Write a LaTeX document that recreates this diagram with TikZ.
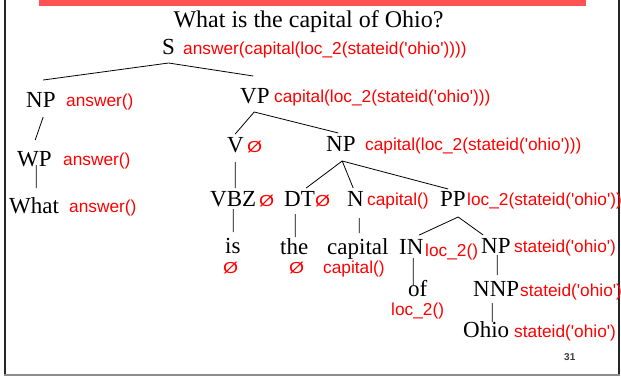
\documentclass[tikz,border=0pt]{standalone}
\usepackage{fontspec}
\setmainfont{Liberation Serif}
\newfontfamily\redfont{Liberation Sans}
\definecolor{barred}{RGB}{255,82,82}
\definecolor{pagegray}{RGB}{60,60,60}
\newcommand{\emptysem}{\scalebox{1.12}[0.92]{Ø}}
\tikzset{
  cat/.style={font=\fontsize{23}{23}\selectfont, inner sep=0pt, anchor=base west},
  sem/.style={font=\redfont\fontsize{17.3}{17.3}\selectfont, text=red, inner sep=0pt, anchor=base west},
  edge/.style={line width=0.8pt, black},
}
\begin{document}
\begin{tikzpicture}[x=1pt,y=-1pt]
\useasboundingbox (0,0) rectangle (621,376);
% frame
\fill[barred] (39,0) rectangle (586,5.5);
\draw[line width=1.6pt, black!85] (4.8,0) -- (4.8,376);
\draw[line width=1.6pt, black!85] (619,0) -- (619,376);
\draw[line width=1.4pt, black!45] (4,374.8) -- (620,374.8);
% title
\node[inner sep=0pt, anchor=base, font=\fontsize{24}{24}\selectfont] (title) at (308.5,27) {What is the capital of Ohio?};
% categories
\node[cat] (S) at (162,54) {S};
\node[cat] (NPa) at (26,107) {NP};
\node[cat] (WP) at (17,166) {WP};
\node[cat] (What) at (9,213) {What};
\node[cat] (VP) at (240,103) {VP};
\node[cat] (V) at (227,152) {V};
\node[cat] (NPb) at (326,151) {NP};
\node[cat] (VBZ) at (210,206) {VBZ};
\node[cat] (DT) at (284,206) {DT};
\node[cat] (N) at (347,206) {N};
\node[cat] (PP) at (440,206) {PP};
\node[cat] (is) at (225,253) {is};
\node[cat] (the) at (280,254) {the};
\node[cat] (capital) at (327,254) {capital};
\node[cat] (IN) at (399,254) {IN};
\node[cat] (NPc) at (481,253) {NP};
\node[cat] (of) at (408,296) {of};
\node[cat] (NNP) at (473,296) {NNP};
\node[cat] (Ohio) at (463,337) {Ohio};
% semantics
\node[sem] (sS) at (183,54) {answer(capital(loc\_2(stateid('ohio'))))};
\node[sem] (sNPa) at (66,106) {answer()};
\node[sem] (sWP) at (63,165) {answer()};
\node[sem] (sWhat) at (69,212) {answer()};
\node[sem] (sVP) at (274,102) {capital(loc\_2(stateid('ohio')))};
\node[sem] (sV) at (247,152) {\emptysem};
\node[sem] (sNPb) at (365,150) {capital(loc\_2(stateid('ohio')))};
\node[sem] (sVBZ) at (259,206) {\emptysem};
\node[sem] (sDT) at (315,206) {\emptysem};
\node[sem] (sN) at (367,205) {capital()};
\node[sem] (sPP) at (467,205) {loc\_2(stateid('ohio'))};
\node[sem] (sIN) at (425,256) {loc\_2()};
\node[sem] (sNPc) at (514,252) {stateid('ohio')};
\node[sem] (sis) at (223,273) {\emptysem};
\node[sem] (sthe) at (289,273) {\emptysem};
\node[sem] (scapital) at (323,273) {capital()};
\node[sem] (sof) at (391,315) {loc\_2()};
\node[sem] (sNNP) at (520,296) {stateid('ohio')};
\node[sem] (sOhio) at (514,337) {stateid('ohio')};
% page number
\node[inner sep=0pt, anchor=base west, font=\redfont\bfseries\fontsize{10}{10}\selectfont, text=pagegray] (pnum) at (564,360) {31};
% edges
\draw[edge] ([shift={(0,9)}]S.base) -- ([shift={(2.3,-27)}]NPa.base);
\draw[edge] ([shift={(0,9)}]S.base) -- ([shift={(-1.7,-27)}]VP.base);
\draw[edge] ([shift={(2.3,10)}]NPa.base) -- ([shift={(0.75,-26)}]WP.base);
\draw[edge] ([shift={(1.75,-1)}]WP.base) -- ([shift={(2.1,-25)}]What.base);
\draw[edge] ([shift={(-0.7,9)}]VP.base) -- ([shift={(-0.3,-18)}]V.base);
\draw[edge] ([shift={(-0.7,9)}]VP.base) -- ([shift={(-2.7,-18)}]NPb.base);
\draw[edge] ([shift={(-0.3,10)}]V.base) -- ([shift={(2,-18)}]VBZ.base);
\draw[edge] ([shift={(1.3,10)}]NPb.base) -- ([shift={(6.7,-18)}]DT.base);
\draw[edge] ([shift={(1.3,10)}]NPb.base) -- ([shift={(-2.3,-18)}]N.base);
\draw[edge] ([shift={(1.3,10)}]NPb.base) -- ([shift={(-4.8,-17)}]PP.base);
\draw[edge] ([shift={(0,3)}]VBZ.base) -- ([shift={(0.3,-21)}]is.base);
\draw[edge] ([shift={(-4.3,8)}]DT.base) -- ([shift={(1,-17)}]the.base);
\draw[edge] ([shift={(3.7,12)}]N.base) -- ([shift={(1.3,-21)}]capital.base);
\draw[edge] ([shift={(5.2,11)}]PP.base) -- ([shift={(7.9,-19)}]IN.base);
\draw[edge] ([shift={(5.2,11)}]PP.base) -- ([shift={(-12.7,-18)}]NPc.base);
\draw[edge] ([shift={(1.9,4)}]IN.base) -- ([shift={(-4.6,-11)}]of.base);
\draw[edge] ([shift={(1.3,2)}]NPc.base) -- ([shift={(1,-21)}]NNP.base);
\draw[edge] ([shift={(-4,7)}]NNP.base) -- ([shift={(6,-15)}]Ohio.base);
\end{tikzpicture}
\end{document}
